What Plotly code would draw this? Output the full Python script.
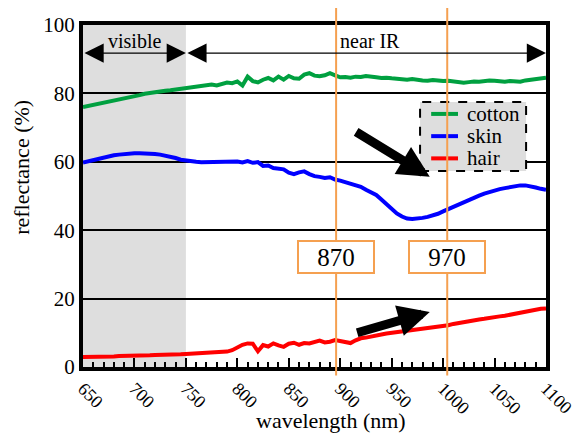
import plotly.graph_objects as go

wavelength = [650, 655, 660, 665, 670, 675, 680, 685, 690, 695,
              700, 705, 710, 715, 720, 725, 730, 735, 740, 745,
              750, 755, 760, 765, 770, 775, 780, 785, 790, 795,
              800, 805, 810, 815, 820, 825, 830, 835, 840, 845,
              850, 855, 860, 865, 870, 875, 880, 885, 890, 895,
              900, 905, 910, 915, 920, 925, 930, 935, 940, 945,
              950, 955, 960, 965, 970, 975, 980, 985, 990, 995,
              1000, 1005, 1010, 1015, 1020, 1025, 1030, 1035, 1040, 1045,
              1050, 1055, 1060, 1065, 1070, 1075, 1080, 1085, 1090, 1095,
              1100]

cotton = [76.0, 76.3, 76.6, 76.9, 77.2, 77.5, 77.7, 78.1, 78.5, 78.8,
          79.1, 79.5, 79.9, 80.2, 80.4, 80.6, 80.8, 80.9, 81.1, 81.4,
          81.6, 81.8, 82.1, 82.3, 82.4, 82.6, 82.3, 82.9, 83.2, 83.0,
          83.5, 82.3, 84.9, 83.6, 83.2, 84.0, 84.5, 83.8, 84.9, 84.0,
          85.1, 84.4, 84.3, 85.5, 85.9, 85.2, 85.0, 85.3, 85.9, 85.3,
          84.7, 84.8, 84.6, 84.9, 84.8, 85.1, 85.0, 84.7, 84.5, 84.6,
          84.4, 84.3, 84.2, 84.0, 84.2, 83.9, 83.8, 83.7, 83.9, 83.8,
          83.6, 83.7, 83.4, 83.2, 83.1, 83.3, 83.5, 83.4, 83.6, 83.8,
          83.7, 83.5, 83.4, 83.6, 83.5, 83.4, 83.8, 84.0, 84.3, 84.5,
          84.6]

skin = [59.8, 60.2, 60.5, 60.8, 61.2, 61.6, 61.9, 62.1, 62.3, 62.4,
        62.5, 62.5, 62.5, 62.4, 62.3, 62.1, 61.8, 61.5, 61.1, 60.6,
        60.3, 60.1, 60.0, 59.9, 59.9, 59.9, 60.0, 59.9, 60.0, 59.9,
        60.1, 59.8, 60.2, 59.7, 59.9, 58.8, 58.9, 58.2, 58.0, 57.8,
        56.8, 56.4, 56.9, 57.2, 56.4, 55.8, 55.6, 55.3, 55.5, 54.8,
        54.5, 54.1, 53.6, 53.2, 52.7, 51.8, 51.2, 50.3, 49.0, 47.5,
        46.2, 44.9, 44.0, 43.4, 43.3, 43.4, 43.6, 43.9, 44.3, 44.8,
        45.5, 46.2, 46.9, 47.6, 48.2, 48.8, 49.5, 50.1, 50.7, 51.2,
        51.6, 52.0, 52.3, 52.6, 52.9, 53.1, 53.1, 52.9, 52.5, 52.1,
        51.8]

hair = [2.9, 2.9, 3.0, 3.0, 3.1, 3.1, 3.1, 3.2, 3.2, 3.3,
        3.3, 3.3, 3.4, 3.4, 3.5, 3.5, 3.6, 3.6, 3.7, 3.7,
        3.8, 3.9, 3.9, 4.0, 4.1, 4.2, 4.3, 4.4, 4.5, 4.9,
        5.8, 6.5, 6.9, 6.8, 4.6, 6.4, 6.0, 6.9, 6.3, 5.9,
        6.8, 7.1, 6.5, 7.0, 6.9, 7.3, 7.7, 7.2, 7.4, 7.9,
        7.6, 7.1, 7.0, 7.8, 8.4, 8.6, 9.0, 9.4, 9.5, 9.8,
        10.0, 10.1, 10.2, 10.4, 10.6, 10.8, 11.0, 11.3, 11.6, 11.8,
        12.0, 12.2, 12.6, 12.9, 13.1, 13.4, 13.7, 13.9, 14.1, 14.4,
        14.6, 14.8, 15.0, 15.3, 15.5, 15.8, 16.2, 16.5, 16.8, 17.0,
        17.1]

series_names = ["cotton", "skin", "hair"]
series_colors = ["#00a040", "#0000ff", "#ff0000"]
marker_lines = [896, 1004]
marker_labels = ["870", "970"]
x_ticks = [650, 700, 750, 800, 850, 900, 950, 1000, 1050, 1100]
y_ticks = [0, 20, 40, 60, 80, 100]

FONT = "Liberation Serif, Times New Roman, DejaVu Serif, serif"
ORANGE = "#f5a050"

fig = go.Figure()
for name, vals, col in zip(series_names, [cotton, skin, hair], series_colors):
    fig.add_trace(go.Scatter(x=wavelength, y=vals, mode="lines", name=name,
                             line=dict(color=col, width=4), showlegend=False))

shapes = []
# visible region shading
shapes.append(dict(type="rect", xref="x", yref="y", x0=650, x1=750, y0=0, y1=100,
                   fillcolor="#dedede", line=dict(width=0), layer="below"))
# legend box (dashed)
shapes.append(dict(type="rect", xref="paper", yref="paper", x0=0.728, x1=0.957,
                   y0=0.573, y1=0.775, fillcolor="#dedede",
                   line=dict(color="black", width=2, dash="dash"), layer="above"))
# legend entries
legend_y = [0.740, 0.675, 0.610]
annotations = []
for name, col, ly in zip(series_names, series_colors, legend_y):
    shapes.append(dict(type="line", xref="paper", yref="paper", x0=0.752, x1=0.810,
                       y0=ly, y1=ly, line=dict(color=col, width=4), layer="above"))
    annotations.append(dict(x=0.825, y=ly, xref="paper", yref="paper", text=name,
                            showarrow=False, xanchor="left", yanchor="middle",
                            font=dict(family=FONT, size=21, color="black")))
for xv in marker_lines:
    shapes.append(dict(type="line", xref="x", yref="paper", x0=xv, x1=xv,
                       y0=-0.025, y1=1.06, line=dict(color=ORANGE, width=2),
                       layer="above"))

# top region arrows
annotations.append(dict(x=750, y=91.8, ax=650, ay=91.8, xref="x", yref="y",
                        axref="x", ayref="y", showarrow=True, arrowhead=2,
                        arrowside="end+start", arrowsize=3.2, arrowwidth=1.2,
                        arrowcolor="black", text="", standoff=0, startstandoff=0))
annotations.append(dict(x=1100, y=91.8, ax=750, ay=91.8, xref="x", yref="y",
                        axref="x", ayref="y", showarrow=True, arrowhead=2,
                        arrowside="end+start", arrowsize=3.2, arrowwidth=1.2,
                        arrowcolor="black", text="", standoff=0, startstandoff=0))
annotations.append(dict(x=700, y=95.4, xref="x", yref="y", text="visible",
                        showarrow=False, font=dict(family=FONT, size=20, color="black")))
annotations.append(dict(x=929, y=95.4, xref="x", yref="y", text="near IR",
                        showarrow=False, font=dict(family=FONT, size=20, color="black")))
# big black arrows
annotations.append(dict(x=987, y=55.6, ax=914, ay=69.0, xref="x", yref="y",
                        axref="x", ayref="y", showarrow=True, arrowhead=2,
                        arrowsize=0.7, arrowwidth=9, arrowcolor="black", text="",
                        standoff=0))
annotations.append(dict(x=987, y=16.1, ax=915, ay=9.9, xref="x", yref="y",
                        axref="x", ayref="y", showarrow=True, arrowhead=2,
                        arrowsize=0.7, arrowwidth=9, arrowcolor="black", text="",
                        standoff=0))
for xv, lab in zip(marker_lines, marker_labels):
    annotations.append(dict(x=xv, y=32.2, xref="x", yref="y", text=lab,
                            showarrow=False, bgcolor="white", bordercolor=ORANGE,
                            borderwidth=2, width=72, height=28,
                            font=dict(family=FONT, size=25, color="black")))
# axis titles
annotations.append(dict(x=0.536, y=-0.155, xref="paper", yref="paper",
                        text="wavelength (nm)", showarrow=False,
                        xanchor="center", yanchor="middle",
                        font=dict(family=FONT, size=22, color="black")))
annotations.append(dict(x=-0.132, y=0.585, xref="paper", yref="paper",
                        text="reflectance (%)", showarrow=False, textangle=-90,
                        xanchor="center", yanchor="middle",
                        font=dict(family=FONT, size=22, color="black")))

# page body adds an 8px offset, so the figure is sized/margined to compensate
fig.update_layout(
    width=573, height=433,
    margin=dict(l=75, r=35, t=17, b=74),
    paper_bgcolor="white", plot_bgcolor="white",
    shapes=shapes, annotations=annotations,
    font=dict(family=FONT, size=18, color="black"),
    showlegend=False,
)
fig.update_xaxes(range=[650, 1100], tickvals=x_ticks, tickangle=45,
                 automargin=False, ticklabeloverflow="allow",
                 showline=True, linecolor="black", linewidth=4, mirror=True,
                 showgrid=False, zeroline=False,
                 ticks="inside", ticklen=9, tickwidth=1.5, tickcolor="black",
                 minor=dict(dtick=10, ticks="inside", ticklen=5, tickwidth=1.5,
                            tickcolor="black", showgrid=False),
                 tickfont=dict(family=FONT, size=18))
fig.update_yaxes(range=[0, 100], tickvals=y_ticks, automargin=False,
                 showline=True, linecolor="black", linewidth=4, mirror=True,
                 showgrid=True, gridcolor="black", gridwidth=2, zeroline=False,
                 ticks="", tickfont=dict(family=FONT, size=21))

fig.write_html("out.html")
